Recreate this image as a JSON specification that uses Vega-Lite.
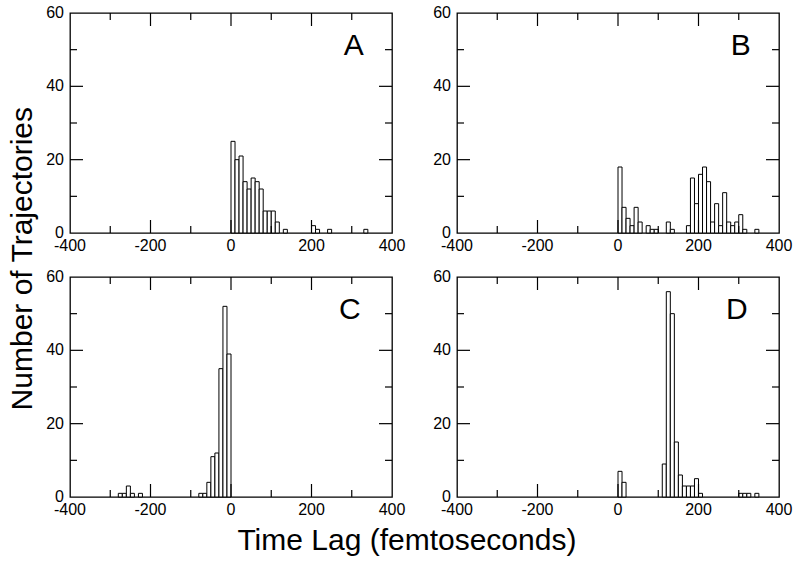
{
  "$schema": "https://vega.github.io/schema/vega-lite/v6.json",
  "background": "white",
  "padding": {"left": 7, "top": 4, "right": 5, "bottom": 5},
  "datasets": {
    "A": [
      {"start": 0, "end": 10, "count": 25}, {"start": 10, "end": 20, "count": 20}, {"start": 20, "end": 30, "count": 21},
      {"start": 30, "end": 40, "count": 14}, {"start": 40, "end": 50, "count": 12}, {"start": 50, "end": 60, "count": 15},
      {"start": 60, "end": 70, "count": 14}, {"start": 70, "end": 80, "count": 12}, {"start": 80, "end": 90, "count": 6},
      {"start": 90, "end": 100, "count": 6}, {"start": 100, "end": 110, "count": 6}, {"start": 110, "end": 120, "count": 3},
      {"start": 130, "end": 140, "count": 1}, {"start": 200, "end": 210, "count": 2}, {"start": 210, "end": 220, "count": 1},
      {"start": 240, "end": 250, "count": 1}, {"start": 330, "end": 340, "count": 1}
    ],
    "B": [
      {"start": 0, "end": 10, "count": 18}, {"start": 10, "end": 20, "count": 7}, {"start": 20, "end": 30, "count": 4},
      {"start": 30, "end": 40, "count": 2}, {"start": 40, "end": 50, "count": 7}, {"start": 50, "end": 60, "count": 3},
      {"start": 70, "end": 80, "count": 2}, {"start": 80, "end": 90, "count": 1}, {"start": 90, "end": 100, "count": 1},
      {"start": 120, "end": 130, "count": 3}, {"start": 130, "end": 140, "count": 1}, {"start": 170, "end": 180, "count": 2},
      {"start": 180, "end": 190, "count": 15}, {"start": 190, "end": 200, "count": 8}, {"start": 200, "end": 210, "count": 16},
      {"start": 210, "end": 220, "count": 18}, {"start": 220, "end": 230, "count": 14}, {"start": 230, "end": 240, "count": 3},
      {"start": 240, "end": 250, "count": 8}, {"start": 250, "end": 260, "count": 2}, {"start": 260, "end": 270, "count": 11},
      {"start": 270, "end": 280, "count": 3}, {"start": 280, "end": 290, "count": 2}, {"start": 290, "end": 300, "count": 3},
      {"start": 300, "end": 310, "count": 5}, {"start": 310, "end": 320, "count": 1}, {"start": 340, "end": 350, "count": 1}
    ],
    "C": [
      {"start": -280, "end": -270, "count": 1}, {"start": -270, "end": -260, "count": 1}, {"start": -260, "end": -250, "count": 3},
      {"start": -250, "end": -240, "count": 1}, {"start": -230, "end": -220, "count": 1},
      {"start": -80, "end": -70, "count": 1}, {"start": -70, "end": -60, "count": 1}, {"start": -60, "end": -50, "count": 4},
      {"start": -50, "end": -40, "count": 11}, {"start": -40, "end": -30, "count": 12}, {"start": -30, "end": -20, "count": 35},
      {"start": -20, "end": -10, "count": 52}, {"start": -10, "end": 0, "count": 39}
    ],
    "D": [
      {"start": 0, "end": 10, "count": 7}, {"start": 10, "end": 20, "count": 4},
      {"start": 110, "end": 120, "count": 9}, {"start": 120, "end": 130, "count": 56}, {"start": 130, "end": 140, "count": 50},
      {"start": 140, "end": 150, "count": 15}, {"start": 150, "end": 160, "count": 6}, {"start": 160, "end": 170, "count": 3},
      {"start": 170, "end": 180, "count": 3}, {"start": 180, "end": 190, "count": 3}, {"start": 190, "end": 200, "count": 5},
      {"start": 200, "end": 210, "count": 1},
      {"start": 300, "end": 310, "count": 1}, {"start": 310, "end": 320, "count": 1}, {"start": 320, "end": 330, "count": 1},
      {"start": 340, "end": 350, "count": 1}
    ],
    "xt": [{"v": -300}, {"v": -200}, {"v": -100}, {"v": 0}, {"v": 100}, {"v": 200}, {"v": 300}],
    "yt": [{"v": 10}, {"v": 20}, {"v": 30}, {"v": 40}, {"v": 50}],
    "xlab": [{"v": -400, "t": "-400"}, {"v": -200, "t": "-200"}, {"v": 0, "t": "0"}, {"v": 200, "t": "200"}, {"v": 400, "t": "400"}],
    "ylab": [{"v": 0, "t": "0"}, {"v": 20, "t": "20"}, {"v": 40, "t": "40"}, {"v": 60, "t": "60"}],
    "labels": [
      {"panel": "A", "tx": 305, "ty": 51}, {"panel": "B", "tx": 305, "ty": 51},
      {"panel": "C", "tx": 295, "ty": 51}, {"panel": "D", "tx": 295, "ty": 51}
    ],
    "titles": [
      {"panel": "A", "t": "Number of Trajectories", "tx": -517, "ty": -7},
      {"panel": "C", "t": "Time Lag (femtoseconds)", "tx": 437, "ty": -12}
    ]
  },
  "columns": 2,
  "spacing": {"row": 44, "column": 65},
  "bounds": "flush",
  "concat": [
    {
      "width": 322, "height": 220,
      "layer": [
        {"data": {"name": "A"},
         "mark": {"type": "bar", "fill": "white", "stroke": "black", "strokeWidth": 1},
         "encoding": {
           "x": {"field": "start", "type": "quantitative", "scale": {"domain": [-400, 400], "nice": false, "zero": false}, "axis": null},
           "x2": {"field": "end"},
           "y": {"field": "count", "type": "quantitative", "scale": {"domain": [0, 60], "nice": false}, "axis": null},
           "y2": {"datum": 0}
         }},
        {"data": {"name": "xt"}, "mark": {"type": "tick", "orient": "vertical", "color": "black", "opacity": 1, "thickness": 1.2, "clip": true},
         "encoding": {"x": {"field": "v", "type": "quantitative", "axis": null}, "y": {"datum": 0, "type": "quantitative", "axis": null},
                      "size": {"condition": {"test": "datum.v % 200 === 0", "value": 26}, "value": 14}}},
        {"data": {"name": "xt"}, "mark": {"type": "tick", "orient": "vertical", "color": "black", "opacity": 1, "thickness": 1.2, "clip": true},
         "encoding": {"x": {"field": "v", "type": "quantitative", "axis": null}, "y": {"datum": 60, "type": "quantitative", "axis": null},
                      "size": {"condition": {"test": "datum.v % 200 === 0", "value": 26}, "value": 14}}},
        {"data": {"name": "yt"}, "mark": {"type": "tick", "orient": "horizontal", "color": "black", "opacity": 1, "thickness": 1.2, "clip": true},
         "encoding": {"y": {"field": "v", "type": "quantitative", "axis": null}, "x": {"datum": -400, "type": "quantitative", "axis": null},
                      "size": {"condition": {"test": "datum.v % 20 === 0", "value": 26}, "value": 14}}},
        {"data": {"name": "yt"}, "mark": {"type": "tick", "orient": "horizontal", "color": "black", "opacity": 1, "thickness": 1.2, "clip": true},
         "encoding": {"y": {"field": "v", "type": "quantitative", "axis": null}, "x": {"datum": 400, "type": "quantitative", "axis": null},
                      "size": {"condition": {"test": "datum.v % 20 === 0", "value": 26}, "value": 14}}},
        {"data": {"name": "xlab"}, "mark": {"type": "text", "fontSize": 16, "font": "Liberation Sans", "color": "black", "align": "center", "baseline": "top", "dy": 5},
         "encoding": {"x": {"field": "v", "type": "quantitative", "axis": null}, "y": {"datum": 0, "type": "quantitative", "axis": null}, "text": {"field": "t"}}},
        {"data": {"name": "ylab"}, "mark": {"type": "text", "fontSize": 16, "font": "Liberation Sans", "color": "black", "align": "right", "baseline": "middle", "dx": -6},
         "encoding": {"y": {"field": "v", "type": "quantitative", "axis": null}, "x": {"datum": -400, "type": "quantitative", "axis": null}, "text": {"field": "t"}}},
        {"data": {"name": "titles"}, "transform": [{"filter": "datum.panel === 'A'"}],
         "mark": {"type": "text", "fontSize": 30, "font": "Liberation Sans", "color": "black", "align": "center", "baseline": "middle", "angle": 270},
         "encoding": {"x": {"field": "tx", "type": "quantitative", "axis": null}, "y": {"field": "ty", "type": "quantitative", "axis": null}, "text": {"field": "t"}}},
        {"data": {"name": "labels"},
         "transform": [{"filter": "datum.panel === 'A'"}],
         "mark": {"type": "text", "fontSize": 30, "font": "Liberation Sans", "color": "black", "align": "center", "baseline": "middle"},
         "encoding": {
           "x": {"field": "tx", "type": "quantitative", "axis": null},
           "y": {"field": "ty", "type": "quantitative", "axis": null},
           "text": {"field": "panel"}
         }}
      ]
    },
    {
      "width": 322, "height": 220,
      "layer": [
        {"data": {"name": "B"},
         "mark": {"type": "bar", "fill": "white", "stroke": "black", "strokeWidth": 1},
         "encoding": {
           "x": {"field": "start", "type": "quantitative", "scale": {"domain": [-400, 400], "nice": false, "zero": false}, "axis": null},
           "x2": {"field": "end"},
           "y": {"field": "count", "type": "quantitative", "scale": {"domain": [0, 60], "nice": false}, "axis": null},
           "y2": {"datum": 0}
         }},
        {"data": {"name": "xt"}, "mark": {"type": "tick", "orient": "vertical", "color": "black", "opacity": 1, "thickness": 1.2, "clip": true},
         "encoding": {"x": {"field": "v", "type": "quantitative", "axis": null}, "y": {"datum": 0, "type": "quantitative", "axis": null},
                      "size": {"condition": {"test": "datum.v % 200 === 0", "value": 26}, "value": 14}}},
        {"data": {"name": "xt"}, "mark": {"type": "tick", "orient": "vertical", "color": "black", "opacity": 1, "thickness": 1.2, "clip": true},
         "encoding": {"x": {"field": "v", "type": "quantitative", "axis": null}, "y": {"datum": 60, "type": "quantitative", "axis": null},
                      "size": {"condition": {"test": "datum.v % 200 === 0", "value": 26}, "value": 14}}},
        {"data": {"name": "yt"}, "mark": {"type": "tick", "orient": "horizontal", "color": "black", "opacity": 1, "thickness": 1.2, "clip": true},
         "encoding": {"y": {"field": "v", "type": "quantitative", "axis": null}, "x": {"datum": -400, "type": "quantitative", "axis": null},
                      "size": {"condition": {"test": "datum.v % 20 === 0", "value": 26}, "value": 14}}},
        {"data": {"name": "yt"}, "mark": {"type": "tick", "orient": "horizontal", "color": "black", "opacity": 1, "thickness": 1.2, "clip": true},
         "encoding": {"y": {"field": "v", "type": "quantitative", "axis": null}, "x": {"datum": 400, "type": "quantitative", "axis": null},
                      "size": {"condition": {"test": "datum.v % 20 === 0", "value": 26}, "value": 14}}},
        {"data": {"name": "xlab"}, "mark": {"type": "text", "fontSize": 16, "font": "Liberation Sans", "color": "black", "align": "center", "baseline": "top", "dy": 5},
         "encoding": {"x": {"field": "v", "type": "quantitative", "axis": null}, "y": {"datum": 0, "type": "quantitative", "axis": null}, "text": {"field": "t"}}},
        {"data": {"name": "ylab"}, "mark": {"type": "text", "fontSize": 16, "font": "Liberation Sans", "color": "black", "align": "right", "baseline": "middle", "dx": -6},
         "encoding": {"y": {"field": "v", "type": "quantitative", "axis": null}, "x": {"datum": -400, "type": "quantitative", "axis": null}, "text": {"field": "t"}}},
        {"data": {"name": "labels"},
         "transform": [{"filter": "datum.panel === 'B'"}],
         "mark": {"type": "text", "fontSize": 30, "font": "Liberation Sans", "color": "black", "align": "center", "baseline": "middle"},
         "encoding": {
           "x": {"field": "tx", "type": "quantitative", "axis": null},
           "y": {"field": "ty", "type": "quantitative", "axis": null},
           "text": {"field": "panel"}
         }}
      ]
    },
    {
      "width": 322, "height": 220,
      "layer": [
        {"data": {"name": "C"},
         "mark": {"type": "bar", "fill": "white", "stroke": "black", "strokeWidth": 1},
         "encoding": {
           "x": {"field": "start", "type": "quantitative", "scale": {"domain": [-400, 400], "nice": false, "zero": false}, "axis": null},
           "x2": {"field": "end"},
           "y": {"field": "count", "type": "quantitative", "scale": {"domain": [0, 60], "nice": false}, "axis": null},
           "y2": {"datum": 0}
         }},
        {"data": {"name": "xt"}, "mark": {"type": "tick", "orient": "vertical", "color": "black", "opacity": 1, "thickness": 1.2, "clip": true},
         "encoding": {"x": {"field": "v", "type": "quantitative", "axis": null}, "y": {"datum": 0, "type": "quantitative", "axis": null},
                      "size": {"condition": {"test": "datum.v % 200 === 0", "value": 26}, "value": 14}}},
        {"data": {"name": "xt"}, "mark": {"type": "tick", "orient": "vertical", "color": "black", "opacity": 1, "thickness": 1.2, "clip": true},
         "encoding": {"x": {"field": "v", "type": "quantitative", "axis": null}, "y": {"datum": 60, "type": "quantitative", "axis": null},
                      "size": {"condition": {"test": "datum.v % 200 === 0", "value": 26}, "value": 14}}},
        {"data": {"name": "yt"}, "mark": {"type": "tick", "orient": "horizontal", "color": "black", "opacity": 1, "thickness": 1.2, "clip": true},
         "encoding": {"y": {"field": "v", "type": "quantitative", "axis": null}, "x": {"datum": -400, "type": "quantitative", "axis": null},
                      "size": {"condition": {"test": "datum.v % 20 === 0", "value": 26}, "value": 14}}},
        {"data": {"name": "yt"}, "mark": {"type": "tick", "orient": "horizontal", "color": "black", "opacity": 1, "thickness": 1.2, "clip": true},
         "encoding": {"y": {"field": "v", "type": "quantitative", "axis": null}, "x": {"datum": 400, "type": "quantitative", "axis": null},
                      "size": {"condition": {"test": "datum.v % 20 === 0", "value": 26}, "value": 14}}},
        {"data": {"name": "xlab"}, "mark": {"type": "text", "fontSize": 16, "font": "Liberation Sans", "color": "black", "align": "center", "baseline": "top", "dy": 5},
         "encoding": {"x": {"field": "v", "type": "quantitative", "axis": null}, "y": {"datum": 0, "type": "quantitative", "axis": null}, "text": {"field": "t"}}},
        {"data": {"name": "ylab"}, "mark": {"type": "text", "fontSize": 16, "font": "Liberation Sans", "color": "black", "align": "right", "baseline": "middle", "dx": -6},
         "encoding": {"y": {"field": "v", "type": "quantitative", "axis": null}, "x": {"datum": -400, "type": "quantitative", "axis": null}, "text": {"field": "t"}}},
        {"data": {"name": "titles"}, "transform": [{"filter": "datum.panel === 'C'"}],
         "mark": {"type": "text", "fontSize": 30, "font": "Liberation Sans", "color": "black", "align": "center", "baseline": "middle"},
         "encoding": {"x": {"field": "tx", "type": "quantitative", "axis": null}, "y": {"field": "ty", "type": "quantitative", "axis": null}, "text": {"field": "t"}}},
        {"data": {"name": "labels"},
         "transform": [{"filter": "datum.panel === 'C'"}],
         "mark": {"type": "text", "fontSize": 30, "font": "Liberation Sans", "color": "black", "align": "center", "baseline": "middle"},
         "encoding": {
           "x": {"field": "tx", "type": "quantitative", "axis": null},
           "y": {"field": "ty", "type": "quantitative", "axis": null},
           "text": {"field": "panel"}
         }}
      ]
    },
    {
      "width": 322, "height": 220,
      "layer": [
        {"data": {"name": "D"},
         "mark": {"type": "bar", "fill": "white", "stroke": "black", "strokeWidth": 1},
         "encoding": {
           "x": {"field": "start", "type": "quantitative", "scale": {"domain": [-400, 400], "nice": false, "zero": false}, "axis": null},
           "x2": {"field": "end"},
           "y": {"field": "count", "type": "quantitative", "scale": {"domain": [0, 60], "nice": false}, "axis": null},
           "y2": {"datum": 0}
         }},
        {"data": {"name": "xt"}, "mark": {"type": "tick", "orient": "vertical", "color": "black", "opacity": 1, "thickness": 1.2, "clip": true},
         "encoding": {"x": {"field": "v", "type": "quantitative", "axis": null}, "y": {"datum": 0, "type": "quantitative", "axis": null},
                      "size": {"condition": {"test": "datum.v % 200 === 0", "value": 26}, "value": 14}}},
        {"data": {"name": "xt"}, "mark": {"type": "tick", "orient": "vertical", "color": "black", "opacity": 1, "thickness": 1.2, "clip": true},
         "encoding": {"x": {"field": "v", "type": "quantitative", "axis": null}, "y": {"datum": 60, "type": "quantitative", "axis": null},
                      "size": {"condition": {"test": "datum.v % 200 === 0", "value": 26}, "value": 14}}},
        {"data": {"name": "yt"}, "mark": {"type": "tick", "orient": "horizontal", "color": "black", "opacity": 1, "thickness": 1.2, "clip": true},
         "encoding": {"y": {"field": "v", "type": "quantitative", "axis": null}, "x": {"datum": -400, "type": "quantitative", "axis": null},
                      "size": {"condition": {"test": "datum.v % 20 === 0", "value": 26}, "value": 14}}},
        {"data": {"name": "yt"}, "mark": {"type": "tick", "orient": "horizontal", "color": "black", "opacity": 1, "thickness": 1.2, "clip": true},
         "encoding": {"y": {"field": "v", "type": "quantitative", "axis": null}, "x": {"datum": 400, "type": "quantitative", "axis": null},
                      "size": {"condition": {"test": "datum.v % 20 === 0", "value": 26}, "value": 14}}},
        {"data": {"name": "xlab"}, "mark": {"type": "text", "fontSize": 16, "font": "Liberation Sans", "color": "black", "align": "center", "baseline": "top", "dy": 5},
         "encoding": {"x": {"field": "v", "type": "quantitative", "axis": null}, "y": {"datum": 0, "type": "quantitative", "axis": null}, "text": {"field": "t"}}},
        {"data": {"name": "ylab"}, "mark": {"type": "text", "fontSize": 16, "font": "Liberation Sans", "color": "black", "align": "right", "baseline": "middle", "dx": -6},
         "encoding": {"y": {"field": "v", "type": "quantitative", "axis": null}, "x": {"datum": -400, "type": "quantitative", "axis": null}, "text": {"field": "t"}}},
        {"data": {"name": "labels"},
         "transform": [{"filter": "datum.panel === 'D'"}],
         "mark": {"type": "text", "fontSize": 30, "font": "Liberation Sans", "color": "black", "align": "center", "baseline": "middle"},
         "encoding": {
           "x": {"field": "tx", "type": "quantitative", "axis": null},
           "y": {"field": "ty", "type": "quantitative", "axis": null},
           "text": {"field": "panel"}
         }}
      ]
    }
  ],
  "config": {
    "view": {"stroke": "black", "strokeWidth": 1.3},
    "font": "Liberation Sans"
  }
}
